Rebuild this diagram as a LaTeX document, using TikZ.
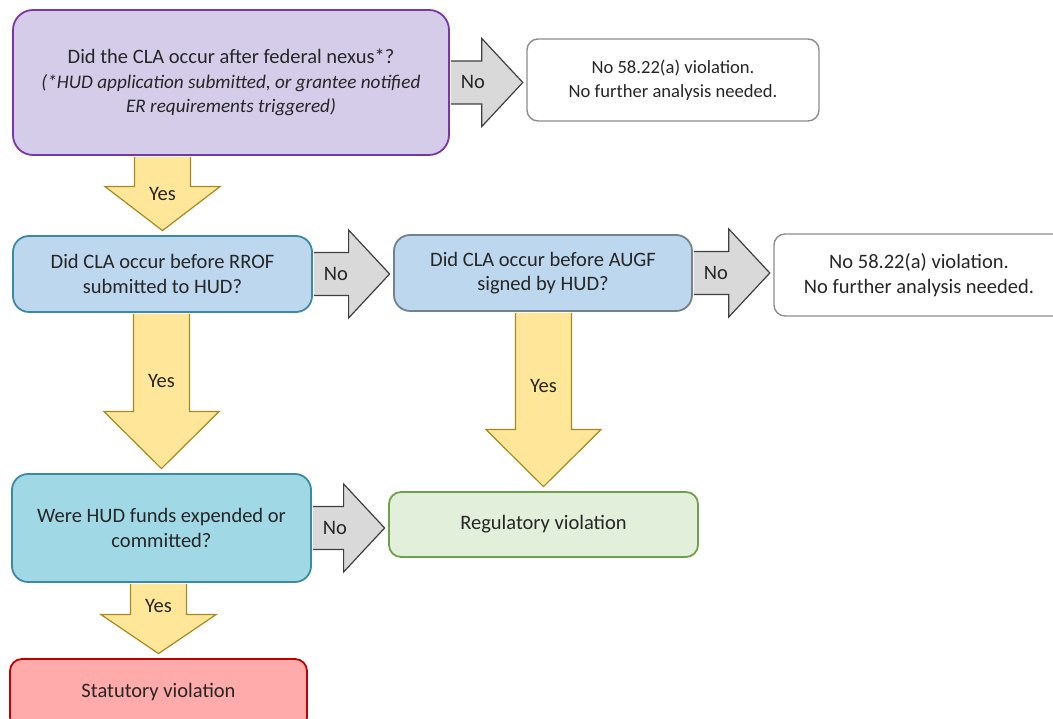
\documentclass[tikz,border=0pt]{standalone}
\usepackage{fontspec}
\setmainfont{Carlito}
\usetikzlibrary{calc}
\definecolor{txt}{HTML}{262626}
\definecolor{purfill}{HTML}{D5CCEA}
\definecolor{purline}{HTML}{7B35A8}
\definecolor{bluefill}{HTML}{BDD7EE}
\definecolor{tealline}{HTML}{3A8AA6}
\definecolor{grayline}{HTML}{748290}
\definecolor{cyanfill}{HTML}{A0D8E6}
\definecolor{greenfill}{HTML}{E2EFDA}
\definecolor{greenline}{HTML}{6FA04A}
\definecolor{redfill}{HTML}{FFABAB}
\definecolor{redline}{HTML}{C00000}
\definecolor{whiteline}{HTML}{8C8C8C}
\definecolor{arrgray}{HTML}{D9D9D9}
\definecolor{arrgrayline}{HTML}{3F3F3F}
\definecolor{yesfill}{HTML}{FFE699}
\definecolor{yesline}{HTML}{A8891E}

\tikzset{
  box/.style={rectangle, rounded corners=16pt, inner sep=0pt, align=center,
    text=txt, line width=1.8pt},
  whitebox/.style={box, rounded corners=11pt, draw=whiteline, fill=white, line width=1.4pt},
  noarrow/.style={fill=arrgray, draw=arrgrayline, line width=1.2pt, line join=miter},
  yesarrow/.style={fill=yesfill, draw=yesline, line width=1.2pt, line join=miter},
  arrlabel/.style={text=txt, inner sep=0pt}
}

% horizontal block arrow: #1 from, #2 to, #3 label name, #4 label text
\newcommand{\hblk}[4]{%
  \filldraw[noarrow] let \p1=(#1.east), \p2=($(#2.west)+(-3.5,0)$) in
    (\x1+0.9pt,\y1+21.5pt) -- (\x2-41pt,\y1+21.5pt) -- (\x2-41pt,\y1+44pt) --
    (\x2,\y1) -- (\x2-41pt,\y1-44pt) -- (\x2-41pt,\y1-21.5pt) -- (\x1+0.9pt,\y1-21.5pt);
  \path let \p1=(#1.east) in node[arrlabel] (#3) at (\x1+23pt,\y1) {#4};
}
% vertical block arrow: #1 from, #2 to, #3 head length, #4 label name, #5 label text, #6 label offset
\newcommand{\vblk}[6]{%
  \filldraw[yesarrow] let \p1=(#1.south), \p2=($(#2.north)+(0,4.5)$) in
    (\x2-28pt,\y1-0.9pt) -- (\x2-28pt,\y2+#3pt) -- (\x2-57.5pt,\y2+#3pt) --
    (\x2,\y2) -- (\x2+57.5pt,\y2+#3pt) -- (\x2+28pt,\y2+#3pt) -- (\x2+28pt,\y1-0.9pt);
  \path let \p1=(#1.south), \p2=(#2.north) in node[arrlabel] (#4) at (\x2,\y1-#6pt) {#5};
}

\begin{document}
\begin{tikzpicture}[x=1pt,y=1pt,font=\fontsize{20.5}{24.5}\selectfont]
\useasboundingbox (0,0) rectangle (1053,719);

\node[box, draw=purline, fill=purfill, rounded corners=20pt,
      minimum width=436pt, minimum height=145pt] (q1) at (231,636.5)
  {Did the CLA occur after federal nexus*?\\
   \fontsize{19.2}{24.5}\selectfont\textit{(*HUD application submitted, or grantee notified}\\
   \fontsize{19.2}{24.5}\selectfont\textit{ER requirements triggered)}};

\node[whitebox, minimum width=292pt, minimum height=82pt,
      font=\fontsize{18.6}{23.5}\selectfont] (n1) at (673,639)
  {No 58.22(a) violation.\\ No further analysis needed.};

\node[box, draw=tealline, fill=bluefill, minimum width=299pt, minimum height=76pt]
  (q2) at (162.5,445) {Did CLA occur before RROF\\ submitted to HUD?};

\node[box, draw=grayline, fill=bluefill, minimum width=298pt, minimum height=76pt]
  (q3) at (543,446) {Did CLA occur before AUGF\\ signed by HUD?};

\node[whitebox, minimum width=290pt, minimum height=82pt] (n2) at (919,444)
  {No 58.22(a) violation.\\ No further analysis needed.};

\node[box, draw=tealline, fill=cyanfill, minimum width=299pt, minimum height=108pt]
  (q4) at (161.5,191) {Were HUD funds expended or\\ committed?};

\node[box, draw=greenline, fill=greenfill, rounded corners=12pt,
      minimum width=309pt, minimum height=65pt] (r1) at (543.5,194.5)
  {Regulatory violation};

\node[box, draw=redline, fill=redfill, rounded corners=12pt,
      minimum width=297pt, minimum height=70pt] (s1) at (158.5,25) {};
\node[text=txt] (s1t) at (158.5,27) {Statutory violation};

\hblk{q1}{n1}{no1}{No}
\hblk{q2}{q3}{no2}{No}
\hblk{q3}{n2}{no3}{No}
\hblk{q4}{r1}{no4}{No}

\vblk{q1}{q2}{44}{yes1}{Yes}{38}
\vblk{q2}{q4}{57}{yes2}{Yes}{68}
\vblk{q3}{r1}{57}{yes3}{Yes}{74}
\vblk{q4}{s1}{39}{yes4}{Yes}{23}
\end{tikzpicture}
\end{document}
